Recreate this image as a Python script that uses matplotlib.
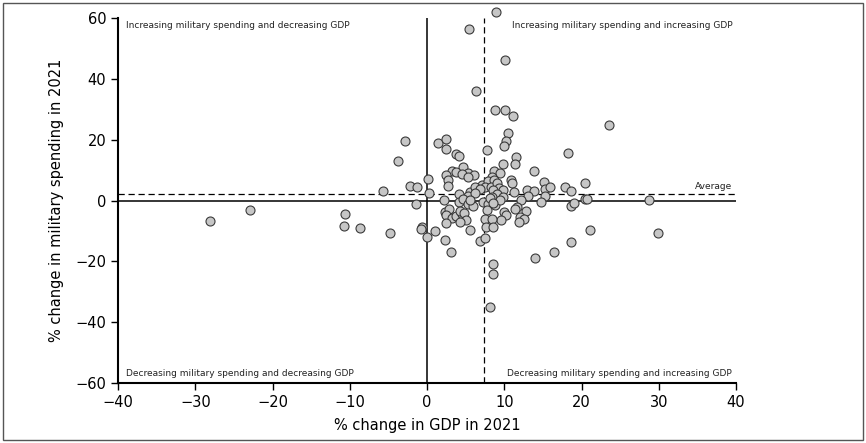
import matplotlib.pyplot as plt
from matplotlib.patches import Rectangle

# % change in GDP (x) and military spending (y), 2021, one point per country
gdp_change = [
    -28.1, -22.9, -10.6, -10.7, -8.7, -4.8, -5.7, -3.7, -2.9, -2.2, -1.3, -1.4,
    -0.7, -0.8, 0.0, 0.1, 0.3, 1.0,
    8.9, 5.4, 10.1, 6.4, 8.8, 10.1, 11.1, 23.6, 10.5, 10.2, 10.0, 1.4, 2.5, 2.5,
    3.8, 4.2, 7.7, 18.3,
    11.5, 11.4, 9.8, 4.7, 13.8, 3.2, 3.8, 5.3, 4.5, 6.1, 2.5, 5.3, 2.7, 2.7,
    8.7, 9.4, 8.4,
    7.1, 7.9, 8.7, 7.5, 8.3, 9.0, 9.3, 10.9, 11.0, 15.1, 15.3, 15.9, 17.8, 18.6,
    20.5, 5.5, 6.2, 6.8, 4.2, 5.3, 6.2, 8.6, 9.9, 9.0, 9.9, 8.4, 11.3, 12.9,
    13.8, 13.1, 15.3, 20.4, 20.7, 12.2, 14.8,
    2.2, 4.1, 4.7, 5.3, 6.0, 5.5, 7.3, 7.9, 8.2, 8.8, 9.4, 8.6, 18.6, 19.0, 28.7,
    7.7, 11.6, 11.4, 12.8, 12.1, 12.6, 11.9, 10.0, 10.2, 9.6, 2.3, 2.9, 2.5,
    3.2, 3.8, 4.5, 4.3, 4.8, 5.0, 4.3, 2.5, 7.5, 8.4, 7.6, 8.6, 5.6, 2.3, 3.1,
    6.8, 7.5, 8.5, 8.5, 8.1, 21.1, 18.6, 16.4, 14.0, 29.9,
]
mil_change = [
    -6.7, -3.1, -4.5, -8.5, -8.9, -10.7, 3.1, 13.1, 19.7, 4.9, 4.4, -1.3,
    -8.6, -9.3, -11.9, 7.2, 2.6, -10.1,
    62.1, 56.4, 46.2, 36.1, 29.9, 29.9, 27.7, 24.8, 22.3, 19.6, 18.0, 18.8, 20.1, 16.8,
    15.3, 14.7, 16.7, 15.6,
    14.4, 12.0, 12.0, 11.1, 9.7, 9.8, 9.5, 9.2, 8.6, 8.5, 8.5, 7.6, 6.7, 4.8,
    9.8, 9.1, 7.6,
    5.0, 6.4, 6.7, 4.5, 4.5, 5.7, 4.0, 6.8, 5.7, 6.1, 3.8, 4.5, 4.5, 3.0,
    5.8, 2.9, 4.5, 3.7, 2.1, 1.5, 2.4, 3.5, 3.5, 2.1, 1.1, 1.3, 2.9, 3.3,
    3.0, 1.4, 1.5, 0.6, 0.4, 0.1, -0.5,
    0.2, -0.6, 0.5, -1.3, -1.7, 0.2, -0.6, -1.3, 0.7, -1.5, 0.2, -0.9, -1.7, -0.9, 0.2,
    -3.2, -2.0, -2.9, -3.5, -5.3, -6.2, -7.2, -3.9, -4.8, -6.5, -3.7, -2.9, -4.8,
    -5.6, -5.2, -4.6, -3.5, -4.2, -6.3, -7.1, -7.5, -6.1, -6.1, -8.6, -8.6, -9.8, -13.1, -16.9,
    -13.2, -12.4, -21.0, -24.0, -34.9, -9.8, -13.5, -16.9, -18.9, -10.7,
]
avg_gdp = 7.4
avg_mil = 2.0

fig = plt.figure(figsize=(8.66, 4.43), dpi=100)
ax = fig.add_axes([0.1363, 0.1354, 0.7136, 0.824])

ax.axhline(0, color='black', lw=1.1, zorder=1)
ax.axvline(0, color='black', lw=1.1, zorder=1)
ax.axhline(avg_mil, color='black', lw=0.9, ls=(0, (5, 3)), zorder=1)
ax.axvline(avg_gdp, color='black', lw=0.9, ls=(0, (5, 3)), zorder=1)

# one country sits above the 60% limit and is drawn outside the frame
ax.scatter(gdp_change, mil_change, s=42, c='#c6c6c6', edgecolors='#3a3a3a',
           linewidths=0.8, zorder=3, clip_on=False)

ax.set_xlim(-40, 40)
ax.set_ylim(-60, 60)
ax.set_xticks(range(-40, 41, 10))
ax.set_yticks(range(-60, 61, 20))
for s in ['top', 'right']:
    ax.spines[s].set_visible(False)
for s in ['left', 'bottom']:
    ax.spines[s].set_linewidth(1.5)
ax.tick_params(direction='out', length=5, width=1, labelsize=10.5)

ax.set_xlabel('% change in GDP in 2021', fontsize=10.5, labelpad=6)
ax.set_ylabel('% change in military spending in 2021', fontsize=10.5,
              labelpad=8)

qs = dict(fontsize=6.5, color='#222222')
ax.text(-39, 59, 'Increasing military spending and decreasing GDP',
        ha='left', va='top', **qs)
ax.text(39.5, 59, 'Increasing military spending and increasing GDP',
        ha='right', va='top', **qs)
ax.text(-39, -58.5, 'Decreasing military spending and decreasing GDP',
        ha='left', va='bottom', **qs)
ax.text(39.5, -58.5, 'Decreasing military spending and increasing GDP',
        ha='right', va='bottom', **qs)
ax.text(39.5, avg_mil + 1, 'Average', ha='right', va='bottom', **qs)

fig.patches.append(Rectangle((0.004, 0.006), 0.992, 0.988,
                             transform=fig.transFigure, fill=False,
                             edgecolor='#555555', lw=1))

fig.savefig('out.png', dpi=100)
